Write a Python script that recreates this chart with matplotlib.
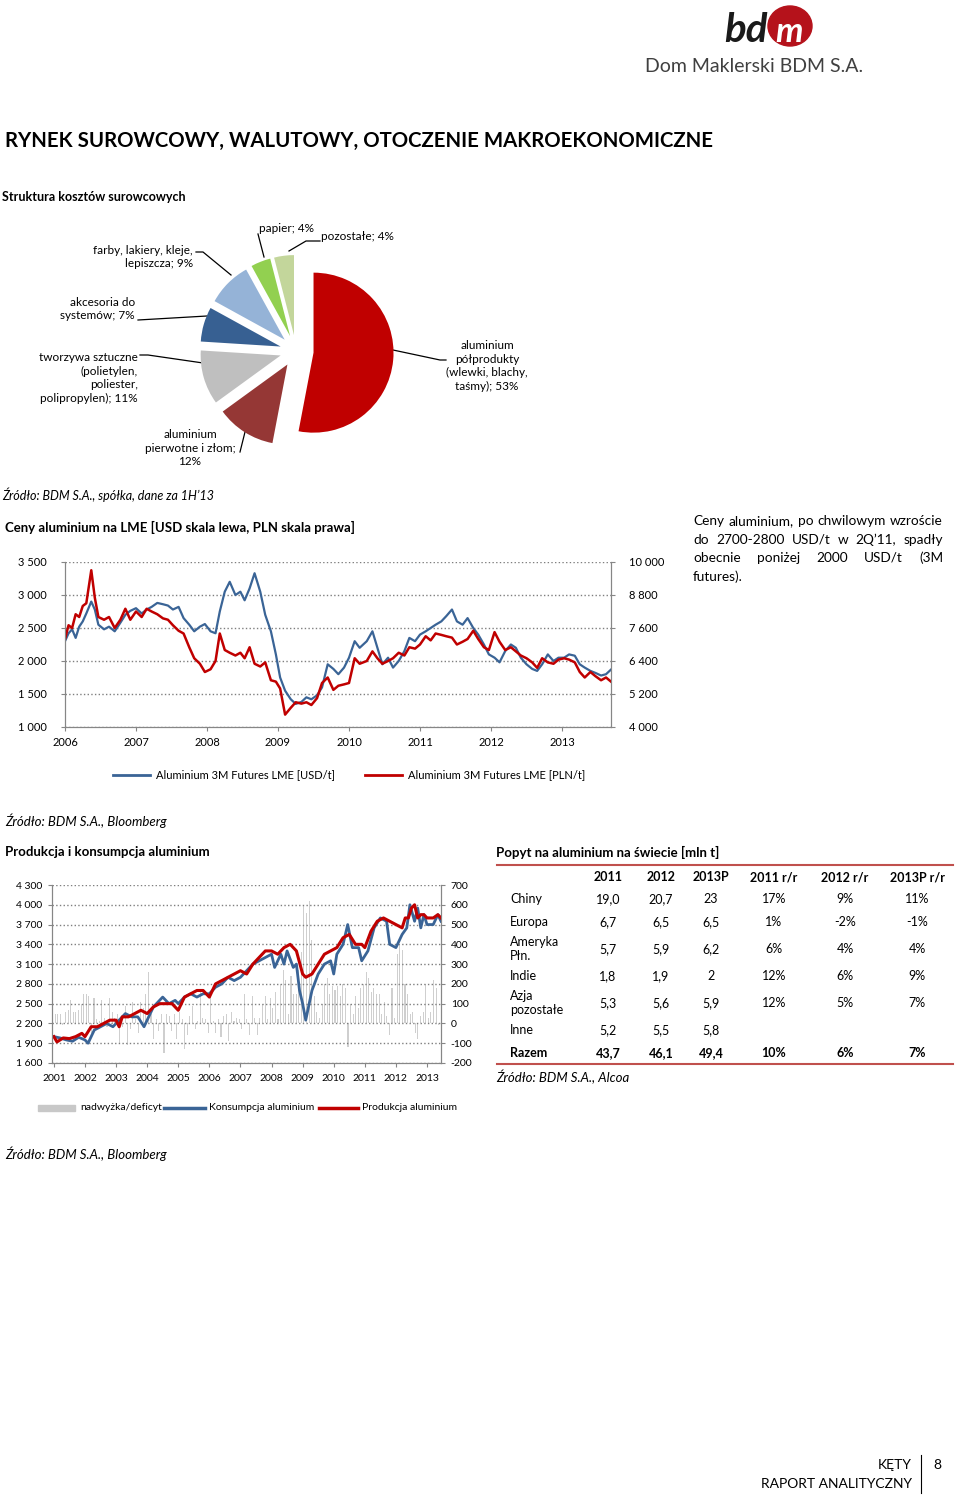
import numpy as np
import matplotlib
matplotlib.use('Agg')
import matplotlib.pyplot as plt
from matplotlib.patches import Ellipse, Rectangle

plt.rcParams['font.family'] = ['Lato', 'DejaVu Sans']
plt.rcParams['axes.unicode_minus'] = False

W, H = 960, 1495
fig = plt.figure(figsize=(9.6, 14.95), dpi=100)

#### DATA ####
pie_labels = ['aluminium\npółprodukty\n(wlewki, blachy,\ntaśmy); 53%',
              'aluminium\npierwotne i złom;\n12%',
              'tworzywa sztuczne\n(polietylen,\npoliester,\npolipropylen); 11%',
              'akcesoria do\nsystemów; 7%',
              'farby, lakiery, kleje,\nlepiszcza; 9%',
              'papier; 4%', 'pozostałe; 4%']
pie_values = [53, 12, 11, 7, 9, 4, 4]
pie_colors = ['#C00000', '#953735', '#BFBFBF', '#376092', '#95B3D7', '#92D050', '#C3D69B']

# LME aluminium 3M futures
lme_t = [2006.0, 2006.05, 2006.1, 2006.15, 2006.2, 2006.25, 2006.3, 2006.37, 2006.42, 2006.47, 2006.55,
         2006.62, 2006.7, 2006.78, 2006.85, 2006.92, 2007.0, 2007.08, 2007.15, 2007.22, 2007.3, 2007.38,
         2007.45, 2007.52, 2007.6, 2007.67, 2007.75, 2007.82, 2007.9, 2007.97, 2008.05, 2008.12, 2008.18,
         2008.25, 2008.32, 2008.4, 2008.47, 2008.53, 2008.6, 2008.67, 2008.75, 2008.82, 2008.9, 2008.97,
         2009.03, 2009.1, 2009.18, 2009.25, 2009.33, 2009.4, 2009.47, 2009.55, 2009.62, 2009.7, 2009.78,
         2009.85, 2009.93, 2010.0, 2010.08, 2010.15, 2010.25, 2010.33, 2010.4, 2010.47, 2010.55, 2010.62,
         2010.7, 2010.78, 2010.85, 2010.93, 2011.0, 2011.08, 2011.15, 2011.22, 2011.3, 2011.37, 2011.45,
         2011.52, 2011.6, 2011.67, 2011.75, 2011.82, 2011.9, 2011.97, 2012.05, 2012.12, 2012.2, 2012.28,
         2012.35, 2012.42, 2012.5, 2012.58, 2012.65, 2012.72, 2012.8, 2012.88, 2012.95, 2013.03, 2013.1,
         2013.18, 2013.25, 2013.32, 2013.4, 2013.47, 2013.55, 2013.62, 2013.69]
lme_usd = [2300, 2420, 2480, 2350, 2520, 2600, 2720, 2900, 2780, 2550, 2480, 2520, 2450, 2580, 2700, 2760,
           2800, 2720, 2780, 2820, 2880, 2860, 2840, 2780, 2820, 2650, 2550, 2450, 2520, 2560, 2450, 2420,
           2750, 3050, 3200, 3000, 3050, 2920, 3100, 3330, 3050, 2700, 2450, 2100, 1750, 1550, 1420, 1350,
           1380, 1450, 1420, 1480, 1600, 1950, 1880, 1800, 1900, 2050, 2300, 2200, 2300, 2450, 2200, 1950,
           2050, 1900, 2000, 2150, 2350, 2300, 2400, 2450, 2500, 2550, 2600, 2680, 2780, 2600, 2550, 2650,
           2500, 2400, 2250, 2100, 2050, 1980, 2150, 2250, 2200, 2050, 1950, 1880, 1850, 1950, 2100, 2000,
           2050, 2050, 2100, 2080, 1950, 1900, 1850, 1820, 1780, 1800, 1870]
lme_pln = [7200, 7700, 7600, 8100, 8000, 8400, 8500, 9700, 8700, 8000, 7900, 8000, 7600, 7900, 8300, 7900,
           8200, 8000, 8300, 8200, 8100, 7950, 7900, 7700, 7500, 7400, 6900, 6500, 6300, 6000, 6100, 6400,
           7400, 6800, 6700, 6600, 6700, 6500, 6900, 6300, 6200, 6350, 5700, 5650, 5400, 4450, 4700, 4900,
           4850, 4900, 4800, 5050, 5600, 5800, 5350, 5500, 5550, 5600, 6500, 6300, 6400, 6750, 6500, 6300,
           6400, 6500, 6700, 6600, 6900, 6850, 7000, 7300, 7150, 7400, 7350, 7300, 7250, 7000, 7100, 7200,
           7500, 7200, 6900, 6800, 7450, 7100, 6800, 6900, 6750, 6600, 6500, 6350, 6150, 6500, 6350, 6300,
           6450, 6500, 6450, 6350, 6000, 5800, 6000, 5850, 5700, 5800, 5650]

# production / consumption (left scale) and surplus (right scale)
cons_t = [2001.0, 2001.2, 2001.4, 2001.6, 2001.8, 2002.0, 2002.1, 2002.3, 2002.5, 2002.7, 2002.9, 2003.1,
          2003.3, 2003.5, 2003.7, 2003.9, 2004.0, 2004.2, 2004.4, 2004.5, 2004.7, 2004.9, 2005.0, 2005.2,
          2005.4, 2005.6, 2005.8, 2006.0, 2006.2, 2006.4, 2006.6, 2006.8, 2007.0, 2007.2, 2007.4, 2007.6,
          2007.8, 2008.0, 2008.1, 2008.3, 2008.4, 2008.5, 2008.7, 2008.8, 2008.9, 2009.0, 2009.1, 2009.3,
          2009.5, 2009.7, 2009.9, 2010.0, 2010.1, 2010.3, 2010.45, 2010.6, 2010.8, 2010.9, 2011.1, 2011.3,
          2011.5, 2011.7, 2011.8, 2012.0, 2012.2, 2012.35, 2012.45, 2012.6, 2012.7, 2012.8, 2012.9, 2013.0,
          2013.2, 2013.35, 2013.45]
cons_val = [2000, 1980, 1950, 1930, 1990, 1950, 1900, 2100, 2150, 2200, 2150, 2250, 2350, 2300, 2300,
            2150, 2250, 2450, 2550, 2600, 2500, 2550, 2500, 2600, 2650, 2600, 2650, 2650, 2750, 2800,
            2900, 2850, 2900, 3000, 3100, 3150, 3200, 3250, 3050, 3250, 3100, 3300, 3050, 3100, 2700,
            2500, 2250, 2700, 2950, 3100, 3150, 2950, 3250, 3400, 3700, 3350, 3350, 3150, 3300, 3650,
            3800, 3750, 3400, 3350, 3550, 3650, 4000, 3750, 3950, 3650, 3850, 3700, 3700, 3850, 3750]
prod_t = [2001.0, 2001.1, 2001.3, 2001.5, 2001.7, 2001.9, 2002.0, 2002.2, 2002.4, 2002.6, 2002.8, 2003.0,
          2003.1, 2003.2, 2003.4, 2003.6, 2003.8, 2004.0, 2004.2, 2004.4, 2004.6, 2004.8, 2005.0, 2005.2,
          2005.4, 2005.6, 2005.8, 2006.0, 2006.2, 2006.4, 2006.6, 2006.8, 2007.0, 2007.2, 2007.4, 2007.6,
          2007.8, 2008.0, 2008.2, 2008.4, 2008.6, 2008.7, 2008.8, 2009.0, 2009.1, 2009.3, 2009.5, 2009.7,
          2009.9, 2010.1, 2010.3, 2010.5, 2010.7, 2010.9, 2011.0, 2011.2, 2011.4, 2011.6, 2011.8, 2012.0,
          2012.2, 2012.3, 2012.4, 2012.5, 2012.6, 2012.7, 2012.8, 2012.9, 2013.0, 2013.2, 2013.35, 2013.45]
prod_val = [2000, 1920, 1980, 1970, 2000, 2050, 2000, 2150, 2150, 2200, 2250, 2250, 2150, 2300, 2300,
            2350, 2400, 2350, 2450, 2500, 2500, 2500, 2400, 2600, 2650, 2700, 2700, 2600, 2800, 2850,
            2900, 2950, 3000, 2950, 3100, 3200, 3300, 3300, 3250, 3350, 3400, 3350, 3300, 2950, 2900,
            2950, 3100, 3250, 3300, 3350, 3500, 3550, 3400, 3400, 3350, 3600, 3750, 3800, 3750, 3700,
            3650, 3800, 3800, 3950, 4000, 3800, 3850, 3850, 3800, 3800, 3850, 3800]
surplus = [50, 50, 50, -10, 60, 70, 120, 60, 60, 70, 100, 150,
           150, 140, -50, 130, 20, 10, 120, 30, -20, 130, 60, 30,
           50, -100, -20, 90, -110, -30, 110, 20, -50, 110, 80, 150,
           260, 50, -80, 20, -40, 50, -150, 50, 40, -40, 50, -80,
           60, 20, -130, -60, 40, 90, -30, 10, 160, 30, 20, -50,
           140, 10, -50, 20, -70, 40, 50, -90, 60, 10, 30, 20,
           -30, 150, 20, -60, 140, 30, -60, 30, 100, 140, 20, 130,
           80, 160, 20, 200, 270, 220, 50, 240, 150, 150, 270, 360,
           600, 560, 620, 420, 140, 60, 30, 100, 200, 230, 150, 190,
           170, 190, 140, 200, 180, -120, 100, 50, 140, 80, 180, 200,
           260, 230, 160, 180, 150, 150, 50, 110, 40, -60, 180, 30,
           350, 400, 370, 200, 150, 50, 60, -50, -80, 40, 60, 200,
           30, 60, 220, 180, -10]

tab_cols = ['2011', '2012', '2013P', '2011 r/r', '2012 r/r', '2013P r/r']
tab_rows = ['Chiny', 'Europa', 'Ameryka\nPłn.', 'Indie', 'Azja\npozostałe', 'Inne', 'Razem']
tab_vals = [['19,0', '20,7', '23', '17%', '9%', '11%'],
            ['6,7', '6,5', '6,5', '1%', '-2%', '-1%'],
            ['5,7', '5,9', '6,2', '6%', '4%', '4%'],
            ['1,8', '1,9', '2', '12%', '6%', '9%'],
            ['5,3', '5,6', '5,9', '12%', '5%', '7%'],
            ['5,2', '5,5', '5,8', '', '', ''],
            ['43,7', '46,1', '49,4', '10%', '6%', '7%']]

BLUE = '#3A6496'
RED = '#C00000'
GRAY_AX = '#868686'


def box(x0, y0, x1, y1):
    # pixel box (top-left origin) -> figure fraction
    return [x0 / W, 1 - y1 / H, (x1 - x0) / W, (y1 - y0) / H]


def space_fmt(v):
    return '{:,.0f}'.format(v).replace(',', ' ')


#### PAGE (pixel coordinates) ####
pg = fig.add_axes([0, 0, 1, 1])
pg.set_xlim(0, W)
pg.set_ylim(H, 0)
pg.axis('off')

# logo
pg.text(724, 30, 'bd', fontsize=29, fontweight='bold', fontstyle='italic', color='#1a1a1a', va='center')
pg.add_patch(Ellipse((790, 26), 44, 40, color='#B5121B'))
pg.text(789, 32, 'm', fontsize=25, fontweight='bold', fontstyle='italic', color='white', va='center', ha='center')
pg.text(645, 66, 'Dom Maklerski BDM S.A.', fontsize=14, color='#404040', va='center')

pg.text(5, 141, 'RYNEK SUROWCOWY, WALUTOWY, OTOCZENIE MAKROEKONOMICZNE', fontsize=14.7,
        fontweight='bold', va='center')
pg.text(2, 197, 'Struktura kosztów surowcowych', fontsize=9, fontweight='bold', va='center')
pg.text(2, 495, 'Źródło: BDM S.A., spółka, dane za 1H’13', fontsize=9, fontstyle='italic', va='center')
pg.text(5, 527, 'Ceny aluminium na LME [USD skala lewa, PLN skala prawa]', fontsize=9.5,
        fontweight='bold', va='center')
pg.text(5, 821, 'Źródło: BDM S.A., Bloomberg', fontsize=9.5, fontstyle='italic', va='center')
pg.text(5, 852, 'Produkcja i konsumpcja aluminium', fontsize=9.5, fontweight='bold', va='center')
pg.text(496, 852, 'Popyt na aluminium na świecie [mln t]', fontsize=9.5, fontweight='bold', va='center')
pg.text(496, 1077, 'Źródło: BDM S.A., Alcoa', fontsize=9.5, fontstyle='italic', va='center')
pg.text(5, 1154, 'Źródło: BDM S.A., Bloomberg', fontsize=9.5, fontstyle='italic', va='center')

# footer
pg.text(912, 1465, 'KĘTY', fontsize=10, ha='right', va='center')
pg.text(912, 1484, 'RAPORT ANALITYCZNY', fontsize=10, ha='right', va='center')
pg.plot([921, 921], [1455, 1493], color='black', lw=0.8)
pg.text(937, 1465, '8', fontsize=10, ha='center', va='center')

# justified comment
renderer = fig.canvas.get_renderer()
para = ['Ceny aluminium, po chwilowym wzroście', 'do 2700-2800 USD/t w 2Q’11, spadły',
        'obecnie poniżej 2000 USD/t (3M', 'futures).']
for i, line in enumerate(para):
    y = 521 + i * 18.5
    words = line.split(' ')
    ts = [pg.text(693, y, w, fontsize=9.8, va='center') for w in words]
    if i == len(para) - 1:
        continue
    widths = [t.get_window_extent(renderer).width for t in ts]
    gap = (943 - 693 - sum(widths)) / (len(words) - 1)
    x = 693
    for t, w in zip(ts, widths):
        t.set_x(x)
        x += w + gap

#### PIE ####
cx, cy, rpx = 296, 351, 80
axp = fig.add_axes(box(cx - 108, cy - 108, cx + 108, cy + 108))
axp.pie(pie_values, colors=pie_colors, startangle=90, counterclock=False,
        explode=[0.22] + [0.2] * (len(pie_values) - 1), radius=1)
axp.set_xlim(-1.35, 1.35)
axp.set_ylim(-1.35, 1.35)
axp.set_aspect('equal')
axp.axis('off')

lab_kw = dict(fontsize=8.5, va='center', linespacing=1.3)
pg.text(487, 366, pie_labels[0], ha='center', **lab_kw)
pg.text(190, 448, pie_labels[1], ha='center', **lab_kw)
pg.text(138, 378, pie_labels[2], ha='right', **lab_kw)
pg.text(135, 309, pie_labels[3], ha='right', **lab_kw)
pg.text(193, 257, pie_labels[4], ha='right', **lab_kw)
pg.text(259, 228, pie_labels[5], ha='left', **lab_kw)
pg.text(321, 237, pie_labels[6], ha='left', **lab_kw)
leaders = [([393, 440, 446], [350, 360, 360]),
           ([240, 247], [452, 424]),
           ([140, 148, 210], [355, 355, 364]),
           ([138, 207], [320, 316]),
           ([196, 203, 231], [252, 252, 275]),
           ([258, 264], [234, 257]),
           ([320, 306, 289], [241, 241, 251])]
for xs, ys in leaders:
    pg.plot(xs, ys, color='black', lw=0.9)

#### LME LINE CHART ####
ax1 = fig.add_axes(box(65, 562, 611, 727))
ax2 = ax1.twinx()
ax1.plot(lme_t, lme_usd, color=BLUE, lw=1.6)
ax2.plot(lme_t, lme_pln, color=RED, lw=1.8)
ax1.set_xlim(2006.0, 2013.69)
ax1.set_ylim(1000, 3500)
ax2.set_ylim(4000, 10000)
ax1.set_yticks(np.arange(1000, 3501, 500))
ax1.set_yticklabels([space_fmt(v) for v in np.arange(1000, 3501, 500)])
ax2.set_yticks(np.arange(4000, 10001, 1200))
ax2.set_yticklabels([space_fmt(v) for v in np.arange(4000, 10001, 1200)])
ax1.set_xticks(range(2006, 2014))
ax1.yaxis.grid(True, linestyle=':', color='#7f7f7f', lw=1)
for a in (ax1, ax2):
    a.spines['top'].set_visible(False)
    for s in ('left', 'right', 'bottom'):
        a.spines[s].set_color(GRAY_AX)
    a.tick_params(colors=GRAY_AX, labelcolor='black', labelsize=8, length=3, pad=10)
ax1.tick_params(axis='x', pad=4)

pg.plot([113, 150], [775, 775], color=BLUE, lw=2)
pg.text(156, 775, 'Aluminium 3M Futures LME [USD/t]', fontsize=8, va='center')
pg.plot([365, 402], [775, 775], color=RED, lw=2)
pg.text(408, 775, 'Aluminium 3M Futures LME [PLN/t]', fontsize=8, va='center')

#### PRODUCTION / CONSUMPTION ####
ax3 = fig.add_axes(box(52, 885, 441, 1063))
ax4 = ax3.twinx()
sur_t = [2001 + (i + 0.5) / 12 for i in range(len(surplus))]
ax4.bar(sur_t, surplus, width=0.035, color='#CFCFCF')
ax3.set_zorder(ax4.get_zorder() + 1)
ax3.patch.set_visible(False)
ax3.plot(cons_t, cons_val, color=BLUE, lw=2)
ax3.plot(prod_t, prod_val, color=RED, lw=2.2)
ax3.set_xlim(2000.94, 2013.45)
ax3.set_ylim(1600, 4300)
ax4.set_ylim(-200, 700)
ax3.set_yticks(np.arange(1600, 4301, 300))
ax3.set_yticklabels([space_fmt(v) for v in np.arange(1600, 4301, 300)])
ax4.set_yticks(np.arange(-200, 701, 100))
ax3.set_xticks(range(2001, 2014))
ax3.yaxis.grid(True, linestyle=':', color='#7f7f7f', lw=1)
for a in (ax3, ax4):
    a.spines['top'].set_visible(False)
    for s in ('left', 'right', 'bottom'):
        a.spines[s].set_color(GRAY_AX)
    a.tick_params(colors=GRAY_AX, labelcolor='black', labelsize=7.5, length=3, pad=4)
ax3.tick_params(axis='x', pad=5)

pg.add_patch(Rectangle((38, 1105), 37, 6, color='#C8C8C8'))
pg.text(80, 1108, 'nadwyżka/deficyt', fontsize=7.5, va='center')
pg.plot([164, 205], [1108, 1108], color=BLUE, lw=2.5)
pg.text(209, 1108, 'Konsumpcja aluminium', fontsize=7.5, va='center')
pg.plot([319, 358], [1108, 1108], color=RED, lw=2.5)
pg.text(362, 1108, 'Produkcja aluminium', fontsize=7.5, va='center')

#### TABLE ####
col_x = [608, 661, 711, 774, 845, 917]
row_y = [899, 922, 949, 976, 1003, 1030, 1053]
pg.plot([497, 953], [865, 865], color='#C0504D', lw=1.5)
pg.plot([497, 953], [1064, 1064], color='#C0504D', lw=1.5)
for x, c in zip(col_x, tab_cols):
    pg.text(x, 877, c, fontsize=9, fontweight='bold', ha='center', va='center')
for i, (name, y) in enumerate(zip(tab_rows, row_y)):
    bold = 'bold' if name == 'Razem' else 'normal'
    pg.text(510, y, name, fontsize=9, fontweight=bold, va='center', linespacing=1.3)
    for x, v in zip(col_x, tab_vals[i]):
        pg.text(x, y, v, fontsize=9, fontweight=bold, ha='center', va='center')

fig.savefig('out.png', dpi=100)
